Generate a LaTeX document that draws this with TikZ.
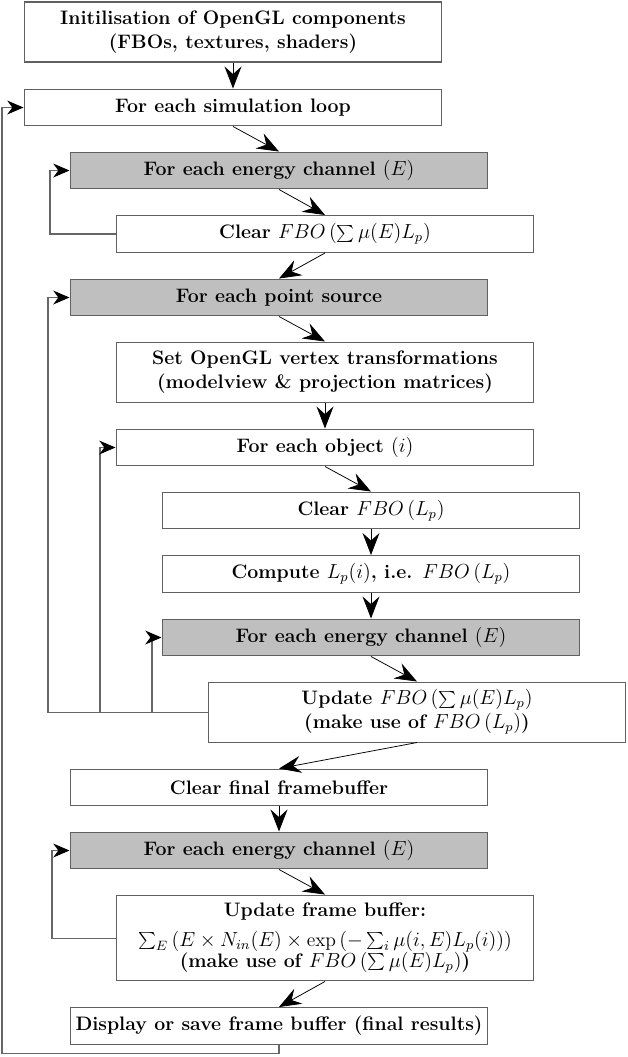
\documentclass[tikz,border=0pt]{standalone}
\usepackage{fontspec}
\usetikzlibrary{arrows.meta}
\begin{document}
\begin{tikzpicture}[x=0.59pt,y=-0.59pt,
  stepbox/.style={draw=black!62,line width=0.6pt,fill=white,minimum width=246.6pt,minimum height=21.8pt,inner sep=0pt,align=center,font=\fontsize{11.5}{14}\selectfont\bfseries},
  graybox/.style={stepbox,fill=black!25},
  two/.style={minimum height=35.4pt},
  three/.style={minimum height=50.7pt},
  flow/.style={draw=black,line width=0.45pt,-{Stealth[length=13pt,width=10pt,inset=4.5pt]}},
  back/.style={draw=black!60,line width=0.6pt,-{Stealth[length=9.6pt,width=8.2pt,inset=3pt,color=black]}}]
\useasboundingbox (0,0) rectangle (627,1057);
\node[stepbox,two] (b1) at (233,32) {Initilisation of OpenGL components\\(FBOs, textures, shaders)};
\node[stepbox] (b2) at (233,107.5) {For each simulation loop};
\node[graybox] (b3) at (279,170.5) {For each energy channel $(E)$};
\node[stepbox] (b4) at (325,234) {Clear $FBO\,(\sum\mu(E)L_p)$};
\node[graybox] (b5) at (279,297.5) {For each point source};
\node[stepbox,two] (b6) at (325,372) {Set OpenGL vertex transformations\\(modelview \& projection matrices)};
\node[stepbox] (b7) at (325,447.5) {For each object $(i)$};
\node[stepbox] (b8) at (371,510.5) {Clear $FBO\,(L_p)$};
\node[stepbox] (b9) at (371,574) {Compute $L_p(i)$, i.e. $FBO\,(L_p)$};
\node[graybox] (b10) at (371,637.5) {For each energy channel $(E)$};
\node[stepbox,two] (b11) at (417,712) {Update $FBO\,(\sum\mu(E)L_p)$\\(make use of $FBO\,(L_p)$)};
\node[stepbox] (b12) at (279,787.5) {Clear final framebuffer};
\node[graybox] (b13) at (279,850.5) {For each energy channel $(E)$};
\node[stepbox,three] (b14) at (325,938) {Update frame buffer:\\[3.5pt]$\sum_E\,(E\times N_{in}(E)\times\exp\,(-\sum_i\mu(i,E)L_p(i)))$\\[-1.5pt](make use of $FBO\,(\sum\mu(E)L_p)$)};
\node[stepbox] (b15) at (279,1026) {Display or save frame buffer (final results)};
% forward flow
\foreach \a/\b in {b1/b2,b2/b3,b3/b4,b4/b5,b5/b6,b6/b7,b7/b8,b8/b9,b9/b10,b10/b11,b11/b12,b12/b13,b13/b14,b14/b15}
  \draw[flow] (\a.south) -- (\b.north);
% loops
\coordinate (c1) at (2,1053);
\coordinate (c2) at (50,234);
\coordinate (c3) at (48,712);
\coordinate (c4) at (100,712);
\coordinate (c5) at (152,712);
\coordinate (c6) at (52,938);
\draw[back] (b15.south) |- (c1) |- (b2.west);
\draw[back] (b4.west) -- (c2) |- (b3.west);
\draw[back] (b11.west) -- (c3) |- (b5.west);
\draw[back] (c4) |- (b7.west);
\draw[back] (c5) |- (b10.west);
\draw[back] (b14.west) -- (c6) |- (b13.west);
\end{tikzpicture}
\end{document}
